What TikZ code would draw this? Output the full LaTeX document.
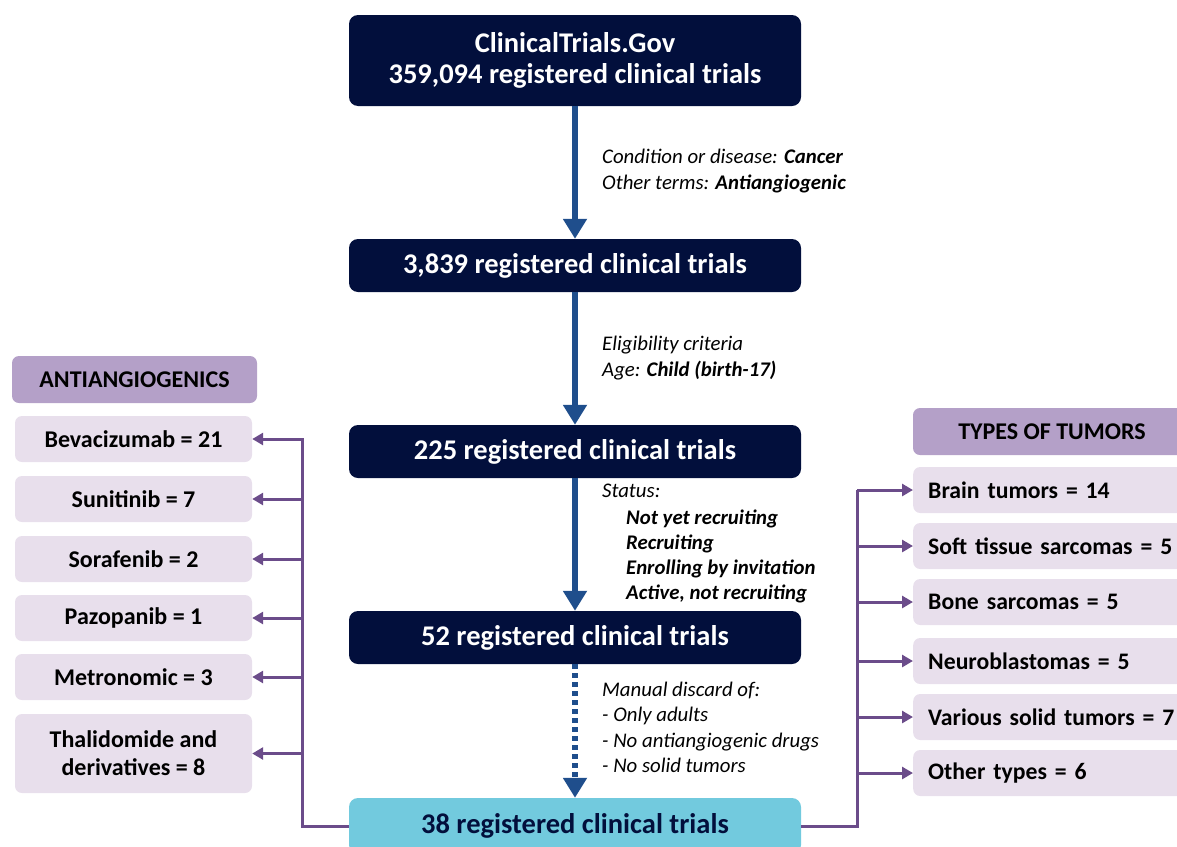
\documentclass[tikz,border=0pt]{standalone}
\usepackage{fontspec}
\setmainfont{Carlito}
\usetikzlibrary{arrows.meta}
\definecolor{navy}{RGB}{2,15,60}
\definecolor{arrowblue}{RGB}{31,78,140}
\definecolor{cyanbox}{RGB}{114,202,222}
\definecolor{hdrpurple}{RGB}{180,160,200}
\definecolor{lightpurple}{RGB}{232,223,236}
\definecolor{linepurple}{RGB}{107,76,138}
\tikzset{
  mainbox/.style={fill=navy, text=white, rounded corners=9pt, minimum width=452pt, font=\bfseries\fontsize{28.5}{31}\selectfont, align=center, inner sep=0pt},
  finalbox/.style={fill=cyanbox, text=navy, rounded corners=9pt, minimum width=452pt, minimum height=56pt, font=\bfseries\fontsize{28.5}{31}\selectfont, inner sep=0pt},
  hdrbox/.style={fill=hdrpurple, rounded corners=7pt, minimum height=47pt, font=\bfseries\fontsize{24}{28}\selectfont, inner sep=0pt},
  leftbox/.style={fill=lightpurple, rounded corners=7pt, minimum width=237pt, minimum height=46pt, font=\bfseries\fontsize{24}{28}\selectfont, align=center, inner sep=0pt},
  rightbox/.style={fill=lightpurple, rounded corners=7pt, anchor=west, text width=300pt, inner xsep=15pt, inner ysep=0pt, minimum height=46pt, font=\bfseries\fontsize{23.7}{28}\selectfont, align=left},
  flowarrow/.style={draw=arrowblue, line width=6pt, -{Triangle[width=23pt,length=20pt]}},
  dasharrow/.style={draw=arrowblue, line width=6pt, dash pattern=on 5pt off 4pt, -{Triangle[width=23pt,length=20pt]}},
  pline/.style={draw=linepurple, line width=3pt},
  parrow/.style={draw=linepurple, line width=3pt, -{Triangle[width=12pt,length=11pt]}},
  lbl/.style={anchor=west, inner sep=0pt, text height=14pt, text depth=5pt, font=\itshape\fontsize{20.8}{24}\selectfont}
}
\begin{document}
\begin{tikzpicture}[x=1pt,y=-1pt]
\useasboundingbox (0,0) rectangle (1177,846);
\clip (0,0) rectangle (1177,846);
% main column
\node[mainbox, minimum height=91pt] (ct) at (575,60.5) {ClinicalTrials.Gov\\359,094 registered clinical trials};
\node[mainbox, minimum height=53pt] (b2) at (575,265.5) {3,839 registered clinical trials};
\node[mainbox, minimum height=53pt] (b3) at (575,451.5) {225 registered clinical trials};
\node[mainbox, minimum height=53pt] (b4) at (575,637.5) {52 registered clinical trials};
\node[finalbox] (b5) at (575,826) {38 registered clinical trials};

\draw[flowarrow] (ct.south) -- (b2.north);
\draw[flowarrow] (b2.south) -- (b3.north);
\draw[flowarrow] (b3.south) -- (b4.north);
\draw[dasharrow] (b4.south) -- (b5.north);

% labels
\node[lbl] (l1a) at (602,159) {Condition or disease: \textbf{Cancer}};
\node[lbl] (l1b) at (602,185) {Other terms: \textbf{Antiangiogenic}};
\node[lbl] (l2a) at (602,346) {Eligibility criteria};
\node[lbl] (l2b) at (602,372) {Age: \textbf{Child (birth-17)}};
\node[lbl] (l3a) at (602,493) {Status:};
\node[lbl] (l3b) at (626,520) {\textbf{Not yet recruiting}};
\node[lbl] (l3c) at (626,545) {\textbf{Recruiting}};
\node[lbl] (l3d) at (626,570) {\textbf{Enrolling by invitation}};
\node[lbl] (l3e) at (626,595) {\textbf{Active, not recruiting}};
\node[lbl] (l4a) at (602,692) {Manual discard of:};
\node[lbl] (l4b) at (602,717) {- Only adults};
\node[lbl] (l4c) at (602,743) {- No antiangiogenic drugs};
\node[lbl] (l4d) at (602,768) {- No solid tumors};

% left side
\node[hdrbox, minimum width=245pt] (lh) at (134.5,379.5) {ANTIANGIOGENICS};
\node[leftbox] (bev) at (133.5,439) {Bevacizumab = 21};
\node[leftbox] (sun) at (133.5,499) {Sunitinib = 7};
\node[leftbox] (sor) at (133.5,559) {Sorafenib = 2};
\node[leftbox] (paz) at (133.5,618) {Pazopanib = 1};
\node[leftbox] (met) at (133.5,677) {Metronomic = 3};
\node[leftbox, minimum height=79pt] (tha) at (133.5,753.5) {Thalidomide and\\derivatives = 8};

\coordinate (lj) at (302,826);
\coordinate (ltop) at (302,437.5);
\draw[pline] (b5.west) -- (lj) -- (ltop);
\draw[parrow] (ltop |- bev.east) -- (bev.east);
\draw[parrow] (lj |- sun.east) -- (sun.east);
\draw[parrow] (lj |- sor.east) -- (sor.east);
\draw[parrow] (lj |- paz.east) -- (paz.east);
\draw[parrow] (lj |- met.east) -- (met.east);
\draw[parrow] (lj |- tha.east) -- (tha.east);

% right side
\node[hdrbox, minimum width=278pt] (rh) at (1052,431.5) {TYPES OF TUMORS};
\node[rightbox] (brn) at (913,490) {Brain tumors = 14};
\node[rightbox] (sts) at (913,546) {Soft tissue sarcomas = 5};
\node[rightbox] (bon) at (913,602) {Bone sarcomas = 5};
\node[rightbox] (neu) at (913,661) {Neuroblastomas = 5};
\node[rightbox] (var) at (913,717) {Various solid tumors = 7};
\node[rightbox] (oth) at (913,773) {Other types = 6};

\coordinate (rj) at (857,826);
\coordinate (rtop) at (857,489.5);
\draw[pline] (b5.east) -- (rj) -- (rtop);
\draw[parrow] (rtop |- brn.west) -- (brn.west);
\draw[parrow] (rj |- sts.west) -- (sts.west);
\draw[parrow] (rj |- bon.west) -- (bon.west);
\draw[parrow] (rj |- neu.west) -- (neu.west);
\draw[parrow] (rj |- var.west) -- (var.west);
\draw[parrow] (rj |- oth.west) -- (oth.west);
\end{tikzpicture}
\end{document}
